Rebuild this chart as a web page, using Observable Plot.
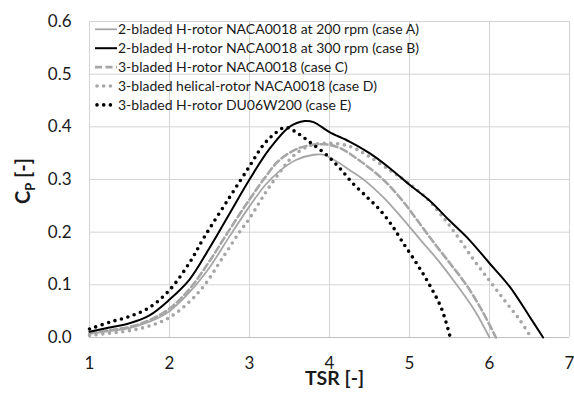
<!DOCTYPE html>
<html>
<head>
<meta charset="utf-8">
<script src="https://cdn.jsdelivr.net/npm/d3@7"></script>
<script src="https://cdn.jsdelivr.net/npm/@observablehq/plot@0.6"></script>
<style>
  html, body { margin: 0; padding: 0; background: #fff; }
  #chart svg { display: block; }
</style>
</head>
<body>
<div id="chart"></div>
<script>
// ---- data ----
const xTicks = [1, 2, 3, 4, 5, 6, 7];
const yTicks = [0, 0.1, 0.2, 0.3, 0.4, 0.5, 0.6];

const caseNames = [
  "2-bladed H-rotor NACA0018 at 200 rpm (case A)",
  "2-bladed H-rotor NACA0018 at 300 rpm (case B)",
  "3-bladed H-rotor NACA0018 (case C)",
  "3-bladed helical-rotor NACA0018 (case D)",
  "3-bladed H-rotor DU06W200 (case E)"
];

const tsrA = [1.0, 1.25, 1.5, 1.75, 2.0, 2.25, 2.5, 2.75, 3.0, 3.2, 3.375, 3.58, 3.8, 3.92, 4.08, 4.25, 4.45, 4.68, 4.9, 5.15, 5.36, 5.59, 5.82, 6.0];
const cpA  = [0.007, 0.012, 0.018, 0.030, 0.050, 0.086, 0.133, 0.192, 0.249, 0.290, 0.316, 0.337, 0.347, 0.347, 0.335, 0.318, 0.297, 0.265, 0.228, 0.183, 0.146, 0.100, 0.050, 0.0];

const tsrB = [1.0, 1.25, 1.5, 1.75, 2.0, 2.25, 2.5, 2.75, 3.0, 3.25, 3.5, 3.69, 3.8, 4.0, 4.25, 4.5, 4.75, 5.0, 5.25, 5.5, 5.75, 6.0, 6.25, 6.5, 6.67];
const cpB  = [0.011, 0.019, 0.027, 0.042, 0.072, 0.110, 0.170, 0.235, 0.300, 0.358, 0.400, 0.411, 0.409, 0.390, 0.372, 0.350, 0.322, 0.290, 0.260, 0.222, 0.185, 0.141, 0.097, 0.040, 0.0];

const tsrC = [1.0, 1.25, 1.5, 1.75, 2.0, 2.25, 2.5, 2.73, 3.0, 3.2, 3.375, 3.625, 3.92, 4.125, 4.375, 4.67, 4.9, 5.1, 5.3, 5.5, 5.71, 5.9, 6.08];
const cpC  = [0.008, 0.014, 0.020, 0.033, 0.055, 0.092, 0.145, 0.200, 0.262, 0.305, 0.337, 0.360, 0.367, 0.360, 0.336, 0.300, 0.262, 0.222, 0.181, 0.142, 0.100, 0.053, 0.0];

const tsrD = [1.0, 1.25, 1.5, 1.75, 2.0, 2.25, 2.44, 2.65, 2.875, 3.0, 3.2, 3.4, 3.55, 3.75, 4.0, 4.25, 4.46, 4.75, 4.96, 5.21, 5.4, 5.6, 5.8, 6.0, 6.2, 6.375, 6.52];
const cpD  = [0.004, 0.008, 0.013, 0.022, 0.038, 0.068, 0.100, 0.148, 0.200, 0.226, 0.275, 0.318, 0.345, 0.364, 0.369, 0.363, 0.347, 0.318, 0.296, 0.265, 0.232, 0.192, 0.148, 0.108, 0.068, 0.034, 0.0];

const tsrE = [1.0, 1.25, 1.5, 1.75, 2.0, 2.25, 2.44, 2.75, 3.0, 3.17, 3.3, 3.45, 3.6, 3.77, 3.96, 4.125, 4.29, 4.48, 4.625, 4.78, 4.91, 5.1, 5.25, 5.4, 5.51];
const cpE  = [0.016, 0.029, 0.040, 0.057, 0.090, 0.142, 0.192, 0.266, 0.325, 0.365, 0.385, 0.399, 0.388, 0.369, 0.347, 0.322, 0.293, 0.265, 0.243, 0.213, 0.182, 0.138, 0.100, 0.055, 0.0];

// ---- build tables ----
const toRows = (xs, ys, name) => xs.map((x, i) => ({tsr: x, cp: ys[i], series: name}));
const rowsA = toRows(tsrA, cpA, caseNames[0]);
const rowsB = toRows(tsrB, cpB, caseNames[1]);
const rowsC = toRows(tsrC, cpC, caseNames[2]);
const rowsD = toRows(tsrD, cpD, caseNames[3]);
const rowsE = toRows(tsrE, cpE, caseNames[4]);

const GRAY = "#a6a6a6";
const GRID = "#d4d4d4";
const FONT = "Lato, 'Open Sans', sans-serif";

const styles = [
  {stroke: GRAY, strokeWidth: 1.8},
  {stroke: "#000", strokeWidth: 2},
  {stroke: GRAY, strokeWidth: 2.6, strokeDasharray: "7 3.5"},
  {stroke: GRAY, strokeWidth: 3.6, strokeDasharray: "0 6.7", strokeLinecap: "round"},
  {stroke: "#000", strokeWidth: 3.6, strokeDasharray: "0 6.7", strokeLinecap: "round"}
];

const plot = Plot.plot({
  width: 574,
  height: 394,
  marginLeft: 89,
  marginRight: 5,
  marginTop: 21,
  marginBottom: 57,
  style: {fontFamily: FONT, background: "#fff", color: "#1a1a1a"},
  x: {domain: [1, 7]},
  y: {domain: [0, 0.6]},
  marks: [
    Plot.gridX(xTicks, {stroke: GRID, strokeOpacity: 1, strokeWidth: 1}),
    Plot.gridY(yTicks, {stroke: GRID, strokeOpacity: 1, strokeWidth: 1}),
    Plot.axisX(xTicks, {tickSize: 0, tickPadding: 19, fontSize: 17, label: null, tickFormat: d => String(d), fill: "#1a1a1a"}),
    Plot.axisY(yTicks, {tickSize: 0, tickPadding: 18, fontSize: 17, label: null, tickFormat: d => d.toFixed(1), fill: "#1a1a1a"}),
    Plot.ruleY([0], {stroke: "#bfbfbf", strokeWidth: 1}),
    Plot.line(rowsA, {x: "tsr", y: "cp", curve: "catmull-rom", ...styles[0]}),
    Plot.line(rowsC, {x: "tsr", y: "cp", curve: "catmull-rom", ...styles[2]}),
    Plot.line(rowsD, {x: "tsr", y: "cp", curve: "catmull-rom", ...styles[3]}),
    Plot.line(rowsB, {x: "tsr", y: "cp", curve: "catmull-rom", ...styles[1]}),
    Plot.line(rowsE, {x: "tsr", y: "cp", curve: "catmull-rom", ...styles[4]}),
    Plot.text(["TSR [-]"], {frameAnchor: "bottom", lineAnchor: "bottom", dy: 47, dx: 5, fontSize: 19.5, fontWeight: "bold", fill: "#1a1a1a"})
  ]
});

document.getElementById("chart").appendChild(plot);

// ---- y-axis title with subscript ----
const svg = d3.select(plot);
const yt = svg.append("text")
  .attr("transform", "translate(30,181) rotate(-90)")
  .attr("text-anchor", "middle")
  .attr("font-family", FONT)
  .attr("font-weight", "bold")
  .attr("font-size", 20)
  .attr("fill", "#1a1a1a");
yt.append("tspan").text("C");
yt.append("tspan").attr("font-size", 13).attr("dy", 5).text("P");
yt.append("tspan").attr("dy", -5).text(" [-]");

// ---- legend (inside plot, top-left) ----
const lg = svg.append("g")
  .attr("font-family", FONT)
  .attr("font-size", 14)
  .attr("text-anchor", "start")
  .attr("fill", "#1a1a1a");
caseNames.forEach((name, i) => {
  const y = 29.3 + i * 18.9;
  const s = styles[i];
  const dotted = s.strokeLinecap === "round";
  lg.append("line")
    .attr("x1", dotted ? 97 : 95).attr("x2", dotted ? 112 : 117)
    .attr("y1", y).attr("y2", y)
    .attr("stroke", s.stroke)
    .attr("stroke-width", s.strokeWidth)
    .attr("stroke-dasharray", s.strokeDasharray || null)
    .attr("stroke-linecap", s.strokeLinecap || "butt");
  lg.append("text")
    .attr("x", 118).attr("y", y).attr("dy", "0.35em")
    .attr("text-anchor", "start")
    .text(name);
});
</script>
</body>
</html>
